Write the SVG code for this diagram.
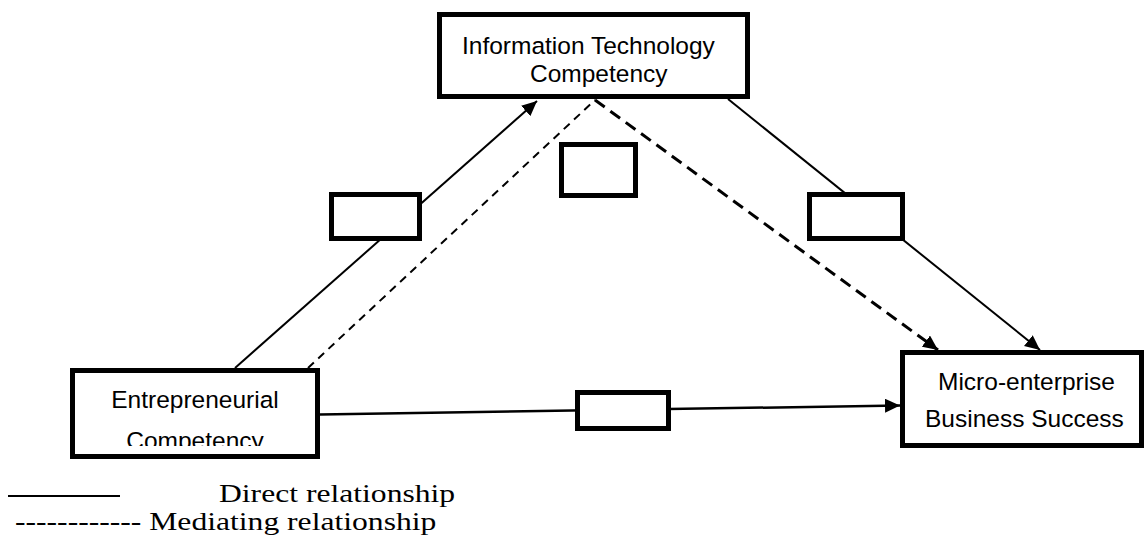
<svg xmlns="http://www.w3.org/2000/svg" width="1146" height="548" viewBox="0 0 1146 548">
  <style>
    .box { fill: #ffffff; stroke: #000000; stroke-width: 5; }
    .lbl { font-family: "Liberation Sans", Arial, sans-serif; font-size: 24.5px; fill: #000000; }
    .leg { font-family: "Liberation Serif", "Times New Roman", serif; font-size: 25.5px; fill: #000000; }
    .solid { stroke: #000000; stroke-width: 2; fill: none; }
    .dash1 { stroke: #000000; stroke-width: 2; fill: none; stroke-dasharray: 8 6; }
    .dash2 { stroke: #000000; stroke-width: 3; fill: none; stroke-dasharray: 12 7; }
  </style>
  <defs>
    <marker id="arrow" markerUnits="userSpaceOnUse" markerWidth="16" markerHeight="14" refX="15" refY="7" orient="auto">
      <path d="M0,0 L15,7 L0,14 Z" fill="#000000"/>
    </marker>
    <clipPath id="ecClip">
      <rect x="75" y="373" width="240" height="73"/>
    </clipPath>
  </defs>
  <rect width="1146" height="548" fill="#ffffff"/>

  <g id="connectors">
    <path class="solid" d="M235,368 L537,101" marker-end="url(#arrow)"/>
    <path class="solid" d="M728,99 L1040,350" marker-end="url(#arrow)"/>
    <path class="dash1" d="M308,368 L595,100"/>
    <path class="dash2" d="M595,100 L938,350" marker-end="url(#arrow)"/>
    <path class="solid" style="stroke-width:2.5" d="M320,414.5 L900,405.5" marker-end="url(#arrow)"/>
  </g>

  <g id="itc">
    <rect class="box" x="439.5" y="14.5" width="308" height="82"/>
    <text class="lbl" x="462" y="54">Information Technology</text>
    <text class="lbl" x="530" y="82">Competency</text>
  </g>

  <g id="ec">
    <rect class="box" x="72.5" y="370.5" width="245" height="86"/>
    <g clip-path="url(#ecClip)">
      <text class="lbl" x="195" y="408" text-anchor="middle">Entrepreneurial</text>
      <text class="lbl" x="195" y="449" text-anchor="middle">Competency</text>
    </g>
  </g>

  <g id="mebs">
    <rect class="box" x="902.5" y="352.5" width="239" height="93"/>
    <text class="lbl" x="938" y="390">Micro-enterprise</text>
    <text class="lbl" x="925" y="427">Business Success</text>
  </g>

  <g id="label-a">
    <rect class="box" x="331.5" y="194.5" width="88" height="44"/>
  </g>
  <g id="label-b">
    <rect class="box" x="561.5" y="144.5" width="74" height="51"/>
  </g>
  <g id="label-c">
    <rect class="box" x="809.5" y="194.5" width="93" height="44"/>
  </g>
  <g id="label-d">
    <rect class="box" x="577.5" y="392.5" width="91" height="36"/>
  </g>

  <g id="legend">
    <line x1="8" y1="496" x2="120" y2="496" stroke="#000000" stroke-width="2"/>
    <text class="leg" transform="translate(219,502) scale(1.24,1)">Direct relationship</text>
    <text class="leg" transform="translate(15,530) scale(1.24,1)">------------ Mediating relationship</text>
  </g>
</svg>
